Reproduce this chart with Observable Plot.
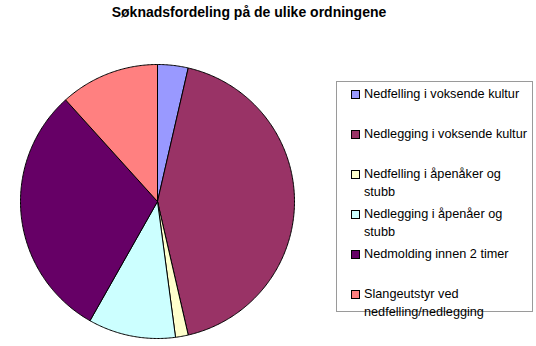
<!DOCTYPE html>
<html><head><meta charset="utf-8">
<script src="https://cdn.jsdelivr.net/npm/d3@7"></script>
<script src="https://cdn.jsdelivr.net/npm/@observablehq/plot@0.6"></script>
<style>
body{margin:0;background:#fff;font-family:"Liberation Sans",Arial,sans-serif;}
#wrap{position:relative;width:536px;height:346px;overflow:hidden;}
#wrap svg{position:absolute;left:0;top:0;}
#title{position:absolute;left:0;width:498px;top:4px;text-align:center;font-weight:bold;font-size:14px;color:#000;}
#legend{position:absolute;left:336px;top:81px;width:197px;height:231px;border:1px solid #9a9a9a;box-sizing:border-box;}
.item{position:absolute;left:14px;font-size:12.7px;line-height:18px;color:#000;}
.sw{position:absolute;left:0;top:5px;width:7px;height:7px;border:1px solid #000;box-sizing:content-box;}
.lab{margin-left:13px;width:164px;}
</style></head><body><div id="wrap"><div id="title"></div><div id="legend"></div></div>
<script>
const categories = [
  "Nedfelling i voksende kultur",
  "Nedlegging i voksende kultur",
  "Nedfelling i åpenåker og stubb",
  "Nedlegging i åpenåer og stubb",
  "Nedmolding innen 2 timer",
  "Slangeutstyr ved nedfelling/nedlegging"
];
const values = [3.6, 42.8, 1.5, 10.3, 30.1, 11.7];
const colors = ["#9999FF", "#993366", "#FFFFCC", "#CCFFFF", "#660066", "#FF8080"];
const title = "Søknadsfordeling på de ulike ordningene";

const arcs = d3.pie().sort(null).value(d => d)(values);
const pts = [];
arcs.forEach((s, i) => {
  const cat = categories[i];
  pts.push({cat, x: 0, y: 0});
  const n = Math.max(2, Math.ceil((s.endAngle - s.startAngle) / 0.01));
  for (let k = 0; k <= n; k++) {
    const a = s.startAngle + (s.endAngle - s.startAngle) * k / n;
    pts.push({cat, x: Math.sin(a), y: Math.cos(a)});
  }
  pts.push({cat, x: 0, y: 0});
});

const chart = Plot.plot({
  width: 536, height: 346, margin: 0,
  x: {domain: [-1, 1], range: [20, 294], axis: null},
  y: {domain: [-1, 1], range: [338, 64], axis: null},
  color: {domain: categories, range: colors},
  marks: [
    Plot.line(pts, {x: "x", y: "y", z: "cat", fill: "cat", stroke: "#000", strokeWidth: 1, strokeLinejoin: "round"})
  ]
});
const wrap = document.getElementById("wrap");
wrap.insertBefore(chart, wrap.firstChild);
document.getElementById("title").textContent = title;

const legend = document.getElementById("legend");
categories.forEach((c, i) => {
  const it = document.createElement("div");
  it.className = "item";
  it.style.top = (3 + 40 * i) + "px";
  const sw = document.createElement("div");
  sw.className = "sw";
  sw.style.background = colors[i];
  const lab = document.createElement("div");
  lab.className = "lab";
  lab.textContent = c;
  it.appendChild(sw); it.appendChild(lab);
  legend.appendChild(it);
});
</script></body></html>
